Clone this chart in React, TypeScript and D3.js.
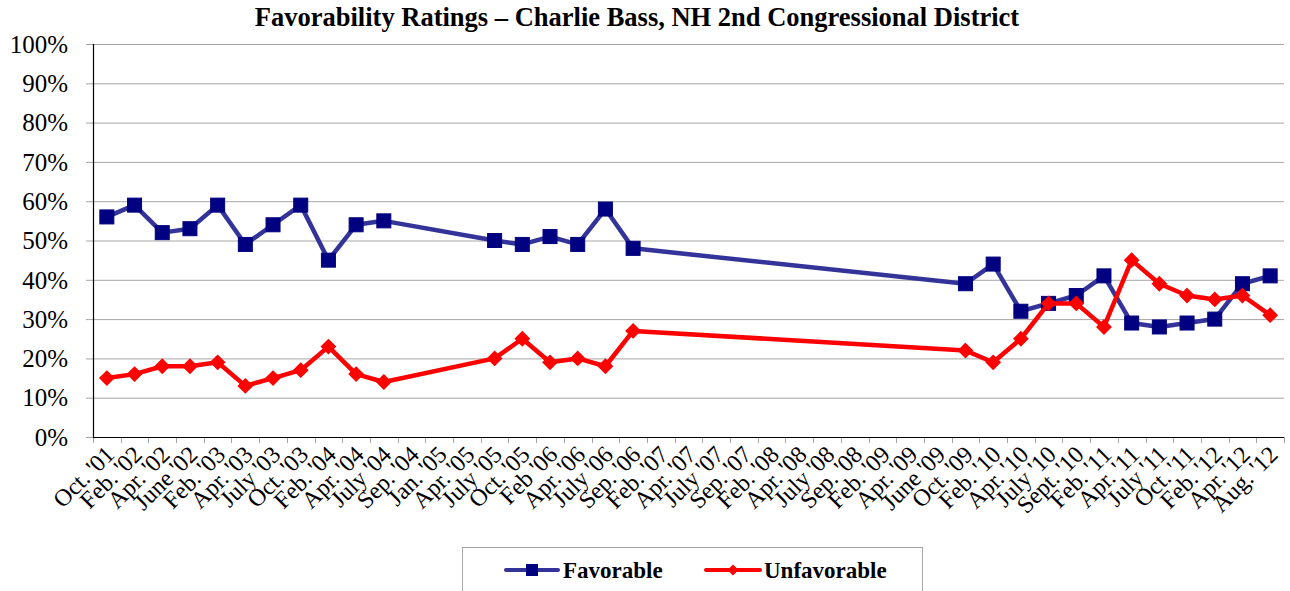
import { useRef, useEffect } from "react";
import * as d3 from "d3";

const CATEGORIES = [
  "Oct. '01", "Feb. '02", "Apr. '02", "June '02", "Feb. '03", "Apr. '03", "July '03", "Oct. '03",
  "Feb. '04", "Apr. '04", "July '04", "Sep. '04", "Jan. '05", "Apr. '05", "July '05", "Oct. '05",
  "Feb '06", "Apr. '06", "July '06", "Sep. '06", "Feb. '07", "Apr. '07", "July '07", "Sep. '07",
  "Feb. '08", "Apr. '08", "July '08", "Sep. '08", "Feb. '09", "Apr. '09", "June '09", "Oct. '09",
  "Feb. '10", "Apr. '10", "July '10", "Sept. '10", "Feb. '11", "Apr. '11", "July '11", "Oct. '11",
  "Feb. '12", "Apr. '12", "Aug. '12",
];

const FAVORABLE: (number | null)[] = [
  56, 59, 52, 53, 59, 49, 54, 59, 45, 54, 55, null, null, null, 50, 49,
  51, 49, 58, 48, null, null, null, null, null, null, null, null, null, null, null, 39,
  44, 32, 34, 36, 41, 29, 28, 29, 30, 39, 41,
];

const UNFAVORABLE: (number | null)[] = [
  15, 16, 18, 18, 19, 13, 15, 17, 23, 16, 14, null, null, null, 20, 25,
  19, 20, 18, 27, null, null, null, null, null, null, null, null, null, null, null, 22,
  19, 25, 34, 34, 28, 45, 39, 36, 35, 36, 31,
];

const Y_TICKS = [0, 10, 20, 30, 40, 50, 60, 70, 80, 90, 100];

const BLUE_LINE = "#333399";
const BLUE_MARK = "#000080";
const RED = "#FF0000";
const FONT = "'Liberation Serif', 'Times New Roman', serif";

export default function App() {
  const svgRef = useRef<SVGSVGElement>(null);
  const width = 1290;
  const height = 591;

  useEffect(() => {
    if (!svgRef.current) return;
    const svg = d3.select(svgRef.current);
    svg.selectAll("*").remove();

    const left = 93, right = 1284, top = 44, bottom = 437;

    const x = d3.scaleBand<string>().domain(CATEGORIES).range([left, right]);
    const y = d3.scaleLinear().domain([0, 100]).range([bottom, top]);
    const cx = (i: number) => (x(CATEGORIES[i]) ?? 0) + x.bandwidth() / 2;

    // title
    svg.append("text")
      .attr("x", 637).attr("y", 26)
      .attr("text-anchor", "middle")
      .style("font-family", FONT).style("font-weight", "bold").style("font-size", "26.5px")
      .text("Favorability Ratings – Charlie Bass, NH 2nd Congressional District");

    // gridlines + y ticks
    svg.append("g").selectAll("line")
      .data(Y_TICKS)
      .join("line")
      .attr("x1", left - 7).attr("x2", right)
      .attr("y1", (d) => y(d) + 0.5).attr("y2", (d) => y(d) + 0.5)
      .attr("stroke", "#a6a6a6").attr("stroke-width", 1);

    svg.append("g").selectAll("text")
      .data(Y_TICKS)
      .join("text")
      .attr("x", 68).attr("y", (d) => y(d))
      .attr("dy", "0.35em")
      .attr("text-anchor", "end")
      .style("font-family", FONT).style("font-size", "25px")
      .text((d) => `${d}%`);

    // x ticks at category boundaries
    const bounds = CATEGORIES.map((c) => x(c) ?? 0).concat([right]);
    svg.append("g").selectAll("line")
      .data(bounds)
      .join("line")
      .attr("x1", (d) => Math.round(d) + 0.5).attr("x2", (d) => Math.round(d) + 0.5)
      .attr("y1", bottom).attr("y2", bottom + 6)
      .attr("stroke", "#a6a6a6");

    // axes lines
    svg.append("line")
      .attr("x1", left + 0.5).attr("x2", left + 0.5)
      .attr("y1", top).attr("y2", bottom)
      .attr("stroke", "#000").attr("stroke-width", 1.2);
    svg.append("line")
      .attr("x1", left).attr("x2", right)
      .attr("y1", bottom + 0.5).attr("y2", bottom + 0.5)
      .attr("stroke", "#000").attr("stroke-width", 1.2);

    // x labels
    svg.append("g").selectAll("text")
      .data(CATEGORIES)
      .join("text")
      .attr("text-anchor", "end")
      .attr("transform", (_, i) => `translate(${cx(i) + 9},${bottom + 19}) rotate(-45)`)
      .style("font-family", FONT).style("font-size", "24px")
      .text((d) => d);

    const pts = (vals: (number | null)[]) =>
      vals.map((v, i) => ({ i, v })).filter((p) => p.v != null) as { i: number; v: number }[];

    const line = d3.line<{ i: number; v: number }>()
      .x((d) => cx(d.i))
      .y((d) => y(d.v));

    const fav = pts(FAVORABLE);
    const unf = pts(UNFAVORABLE);

    svg.append("path")
      .attr("d", line(fav) ?? "")
      .attr("fill", "none").attr("stroke", BLUE_LINE).attr("stroke-width", 4.5)
      .attr("stroke-linejoin", "round");
    svg.append("g").selectAll("rect")
      .data(fav)
      .join("rect")
      .attr("x", (d) => cx(d.i) - 7).attr("y", (d) => y(d.v) - 7)
      .attr("width", 14).attr("height", 14)
      .attr("fill", BLUE_MARK).attr("stroke", BLUE_MARK).attr("stroke-width", 1);

    const diamond = d3.symbol().type(d3.symbolDiamond2).size(120);
    svg.append("path")
      .attr("d", line(unf) ?? "")
      .attr("fill", "none").attr("stroke", RED).attr("stroke-width", 4.5)
      .attr("stroke-linejoin", "round");
    svg.append("g").selectAll("path")
      .data(unf)
      .join("path")
      .attr("d", diamond() ?? "")
      .attr("transform", (d) => `translate(${cx(d.i)},${y(d.v)})`)
      .attr("fill", RED).attr("stroke", RED).attr("stroke-width", 1.5);

    // legend
    const lg = svg.append("g");
    lg.append("rect")
      .attr("x", 462.5).attr("y", 547.5).attr("width", 460).attr("height", 50)
      .attr("fill", "#fff").attr("stroke", "#a6a6a6");
    lg.append("line")
      .attr("x1", 506).attr("x2", 558).attr("y1", 570).attr("y2", 570)
      .attr("stroke", BLUE_LINE).attr("stroke-width", 4).attr("stroke-linecap", "round");
    lg.append("rect")
      .attr("x", 526).attr("y", 564).attr("width", 12).attr("height", 12)
      .attr("fill", BLUE_MARK);
    lg.append("text")
      .attr("x", 563).attr("y", 578)
      .style("font-family", FONT).style("font-weight", "bold").style("font-size", "23px")
      .text("Favorable");
    lg.append("line")
      .attr("x1", 706).attr("x2", 760).attr("y1", 570).attr("y2", 570)
      .attr("stroke", RED).attr("stroke-width", 4).attr("stroke-linecap", "round");
    lg.append("path")
      .attr("d", d3.symbol().type(d3.symbolDiamond2).size(80)() ?? "")
      .attr("transform", "translate(733,570)")
      .attr("fill", RED);
    lg.append("text")
      .attr("x", 764).attr("y", 578)
      .style("font-family", FONT).style("font-weight", "bold").style("font-size", "23px")
      .text("Unfavorable");
  }, []);

  return (
    <svg
      ref={svgRef}
      width={width}
      height={height}
      style={{ position: "absolute", left: 0, top: 0, background: "#fff" }}
    />
  );
}
